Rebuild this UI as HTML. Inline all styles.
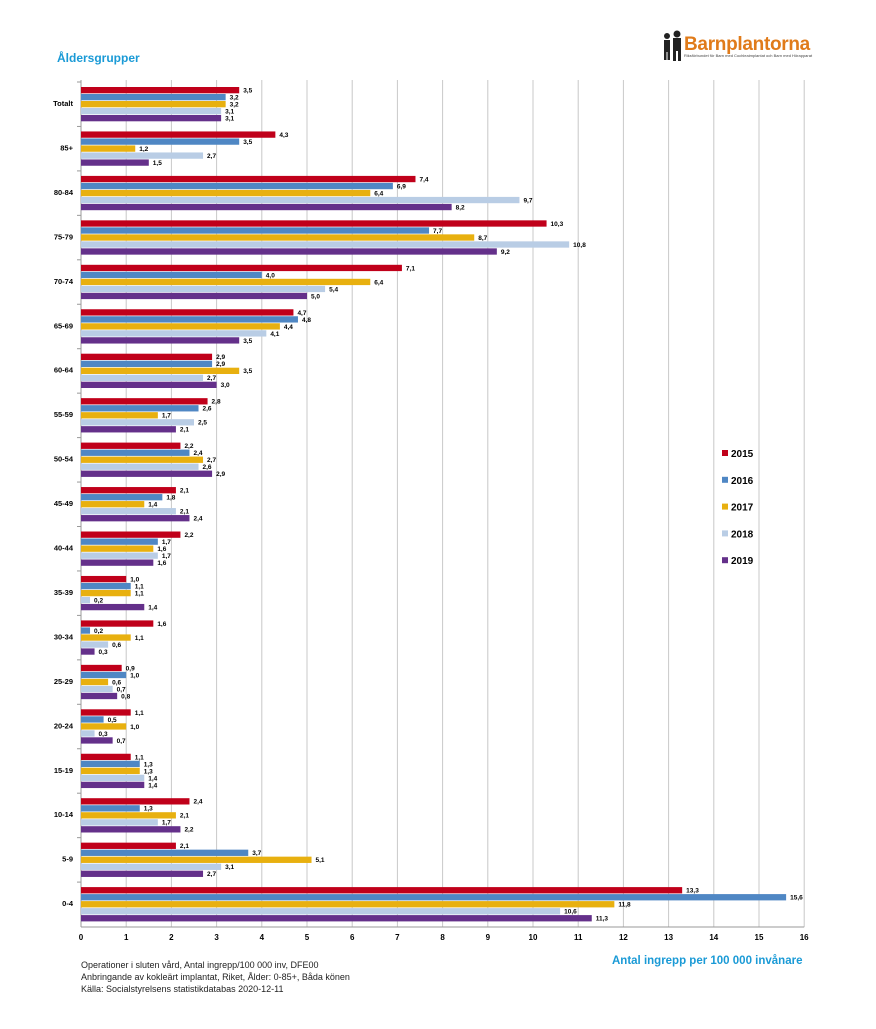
<!DOCTYPE html>
<html><head><meta charset="utf-8"><style>
body{margin:0;background:#fff;font-family:"Liberation Sans",sans-serif;}
</style></head><body>
<svg id="s" width="876" height="1024" xmlns="http://www.w3.org/2000/svg" font-family="Liberation Sans, sans-serif">
<text x="57" y="62" font-size="12" font-weight="bold" fill="#1a9ad6">Åldersgrupper</text>
<g transform="translate(659,31)" fill="#222">
<circle cx="8" cy="5" r="3"/><rect x="5" y="9" width="6" height="12"/><rect x="5" y="20" width="2.5" height="9"/><rect x="8.5" y="20" width="2.5" height="9"/>
<circle cx="18" cy="3" r="3.5"/><rect x="14" y="7" width="8" height="13"/><rect x="14" y="19" width="3" height="11"/><rect x="19" y="19" width="3" height="11"/>
</g>
<text x="684" y="50" font-size="19" font-weight="bold" fill="#e07b1a" letter-spacing="-0.3">Barnplantorna</text>
<text x="684" y="57" font-size="4" fill="#444">Riksförbundet för Barn med Cochleaimplantat och Barn med Hörapparat</text>
<g id="chart"></g>
<text x="612" y="964" font-size="11.5" font-weight="bold" fill="#1a9ad6">Antal ingrepp per 100 000 invånare</text>
<text x="81" y="968" font-size="9" fill="#222">Operationer i sluten vård, Antal ingrepp/100 000 inv, DFE00</text>
<text x="81" y="980" font-size="9" fill="#222">Anbringande av kokleärt implantat, Riket, Ålder: 0-85+, Båda könen</text>
<text x="81" y="992" font-size="9" fill="#222">Källa: Socialstyrelsens statistikdatabas 2020-12-11</text>
</svg>
<script>
(function(){
var D=[["Totalt",[3.5,3.2,3.2,3.1,3.1]],["85+",[4.3,3.5,1.2,2.7,1.5]],["80-84",[7.4,6.9,6.4,9.7,8.2]],["75-79",[10.3,7.7,8.7,10.8,9.2]],["70-74",[7.1,4.0,6.4,5.4,5.0]],["65-69",[4.7,4.8,4.4,4.1,3.5]],["60-64",[2.9,2.9,3.5,2.7,3.0]],["55-59",[2.8,2.6,1.7,2.5,2.1]],["50-54",[2.2,2.4,2.7,2.6,2.9]],["45-49",[2.1,1.8,1.4,2.1,2.4]],["40-44",[2.2,1.7,1.6,1.7,1.6]],["35-39",[1.0,1.1,1.1,0.2,1.4]],["30-34",[1.6,0.2,1.1,0.6,0.3]],["25-29",[0.9,1.0,0.6,0.7,0.8]],["20-24",[1.1,0.5,1.0,0.3,0.7]],["15-19",[1.1,1.3,1.3,1.4,1.4]],["10-14",[2.4,1.3,2.1,1.7,2.2]],["5-9",[2.1,3.7,5.1,3.1,2.7]],["0-4",[13.3,15.6,11.8,10.6,11.3]]];
var C=["#c0001a","#4f87c4","#e8b00f","#b9cde5","#64308a"];
var x0=81,u=45.2,yt=80,yb=927;
var h="";
for(var i=1;i<=16;i++){h+='<line x1="'+(x0+i*u)+'" y1="'+yt+'" x2="'+(x0+i*u)+'" y2="'+yb+'" stroke="#c8c8c8" stroke-width="1"/>';}
for(var i=0;i<=16;i++){h+='<text x="'+(x0+i*u)+'" y="940" font-size="8" font-weight="bold" text-anchor="middle">'+i+'</text>';}
h+='<line x1="'+x0+'" y1="'+yt+'" x2="'+x0+'" y2="'+yb+'" stroke="#999"/><line x1="'+x0+'" y1="'+yb+'" x2="'+(x0+16*u)+'" y2="'+yb+'" stroke="#999"/>';
D.forEach(function(g,gi){var y=87+gi*44.45;
 h+='<text x="73" y="'+(y+19)+'" font-size="7.5" font-weight="bold" text-anchor="end">'+g[0]+'</text>';
 h+='<line x1="77" y1="'+(y-5)+'" x2="'+x0+'" y2="'+(y-5)+'" stroke="#999"/>';
 g[1].forEach(function(v,k){var by=y+k*7;
  h+='<rect x="'+x0+'" y="'+by+'" width="'+(v*u)+'" height="6.3" fill="'+C[k]+'"/>';
  h+='<text x="'+(x0+v*u+4)+'" y="'+(by+5.5)+'" font-size="6.5" font-weight="bold">'+v.toFixed(1).replace('.',',')+'</text>';});
});
["2015","2016","2017","2018","2019"].forEach(function(t,k){var y=450+k*26.8;
 h+='<rect x="722" y="'+y+'" width="6" height="6" fill="'+C[k]+'"/><text x="731" y="'+(y+7)+'" font-size="10" font-weight="bold">'+t+'</text>';});
document.getElementById("chart").innerHTML=h;
})();
</script>
</body></html>
